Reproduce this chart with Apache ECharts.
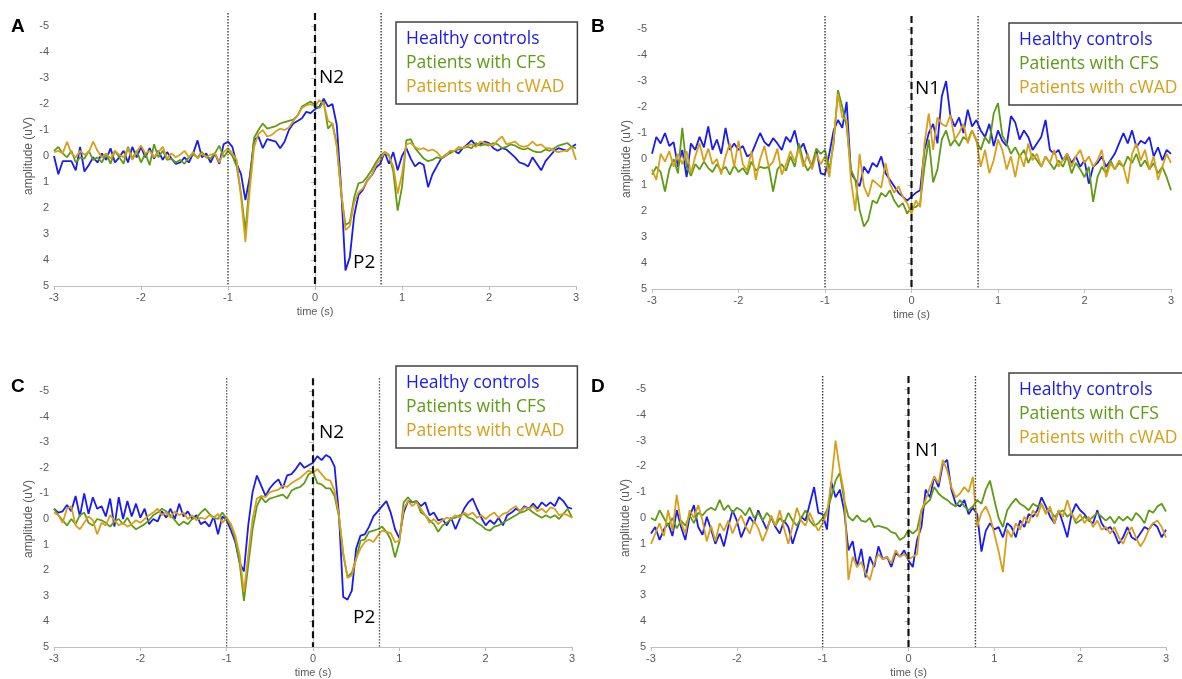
<!DOCTYPE html>
<html>
<head>
<meta charset="utf-8">
<script src="https://cdn.jsdelivr.net/npm/echarts@6/dist/echarts.min.js"></script>
<style>
  html, body { margin: 0; padding: 0; background: #fff; }
  #main { width: 1182px; height: 679px; }
</style>
</head>
<body>
<div id="main"></div>
<script>
// sample grid: one point every 50 ms from -3 s to 3 s (121 points)
var times = [];
for (var i = 0; i <= 120; i++) times.push(Math.round((-3 + i * 0.05) * 100) / 100);

var groupNames = ['Healthy controls', 'Patients with CFS', 'Patients with cWAD'];
var groupColors = ['#1a1af2', '#5f9c14', '#d7a01a'];
var xTicks = [-3, -2, -1, 0, 1, 2, 3];
var yTicks = [-5, -4, -3, -2, -1, 0, 1, 2, 3, 4, 5];

// A
var hcA = [0.0, 0.7, 0.2, 0.2, 0.2, 0.55, -0.35, 0.6, 0.35, 0.05,
  0.25, -0.1, 0.15, -0.3, 0.25, 0.05, -0.2, 0.25, -0.35, 0.05,
  -0.35, 0.05, -0.3, 0.1, -0.2, 0.15, -0.15, 0.1, 0.3, 0.25,
  0.05, 0.25, -0.1, -0.6, 0.05, -0.1, 0.25, -0.1, 0.3, -0.45,
  -0.55, -0.35, 0.3, 0.7, 1.7, 0.8, -0.6, -0.75, -0.3, -0.65,
  -0.6, -0.55, -0.3, -0.55, -1.0, -1.25, -1.35, -1.45, -1.7, -1.65,
  -1.8, -1.9, -2.2, -1.9, -2.0, -1.2, 1.2, 4.4, 3.9, 2.3,
  1.5, 1.3, 0.95, 0.75, 0.45, 0.3, -0.15, 0.3, -0.15, 0.55,
  0.0, -0.3, 0.1, 0.4, 0.25, 0.35, 1.2, 0.7, 0.4, 0.1,
  0.0, -0.15, -0.2, -0.1, -0.3, -0.45, -0.6, -0.4, -0.45, -0.55,
  -0.5, -0.3, -0.2, -0.3, -0.25, -0.1, 0.05, 0.25, 0.3, 0.4,
  0.05, 0.3, 0.55, 0.2, 0.0, -0.2, -0.3, -0.25, -0.2, -0.35,
  -0.45];
var cfsA = [-0.2, -0.35, -0.1, 0.05, -0.2, 0.25, 0.05, 0.1, -0.2, 0.15,
  0.05, 0.25, -0.1, 0.3, -0.2, 0.05, 0.3, -0.35, 0.1, -0.2,
  0.25, -0.1, 0.35, -0.45, 0.05, -0.2, 0.15, 0.1, 0.25, 0.15,
  0.3, 0.05, -0.05, 0.05, -0.15, 0.05, 0.1, -0.1, -0.4, 0.05,
  -0.2, 0.0, 0.4, 1.45, 2.9, 1.0, -0.7, -1.0, -1.25, -1.05,
  -1.1, -1.15, -1.25, -1.3, -1.35, -1.4, -1.55, -1.9, -2.0, -2.1,
  -1.95, -1.85, -2.1, -1.05, -1.25, -0.45, 1.45, 2.65, 2.55, 1.6,
  1.05, 1.0, 0.8, 0.55, 0.25, 0.0, -0.15, -0.05, 0.6, 2.1,
  1.2, -0.6, -0.65, -0.3, -0.1, 0.1, 0.2, 0.15, 0.05, 0.1,
  -0.05, -0.1, -0.2, -0.25, -0.3, -0.35, -0.3, -0.5, -0.4, -0.45,
  -0.4, -0.5, -0.45, -0.3, -0.35, -0.45, -0.4, -0.3, -0.25, -0.3,
  -0.2, -0.15, -0.15, -0.25, -0.2, -0.3, -0.4, -0.45, -0.5, -0.35,
  -0.3];
var wadA = [-0.15, -0.2, -0.1, -0.55, -0.1, 0.05, -0.2, -0.05, -0.15, -0.55,
  -0.2, 0.05, -0.1, 0.1, -0.2, -0.05, 0.05, -0.3, 0.15, -0.15,
  -0.4, -0.1, -0.2, 0.05, -0.15, -0.35, 0.1, -0.1, 0.05, -0.05,
  -0.2, 0.05, -0.15, 0.1, -0.1, 0.05, -0.05, -0.1, 0.25, -0.15,
  -0.3, -0.1, 0.15, 1.6, 3.3, 1.3, -0.35, -0.85, -1.0, -0.75,
  -0.8, -0.95, -1.05, -1.0, -1.1, -1.35, -1.55, -1.85, -1.95, -2.0,
  -1.9, -2.15, -2.0, -1.35, -1.25, -0.35, 1.3, 2.85, 2.7, 1.8,
  1.4, 1.25, 0.95, 0.75, 0.35, 0.15, -0.15, 0.0, 0.4, 1.45,
  0.7, -0.45, -0.5, -0.35, -0.25, -0.3, -0.2, -0.25, -0.15, 0.05,
  0.0, -0.2, -0.2, -0.35, -0.3, -0.4, -0.45, -0.35, -0.55, -0.5,
  -0.45, -0.4, -0.6, -0.75, -0.45, -0.5, -0.55, -0.4, -0.35, -0.4,
  -0.55, -0.4, -0.45, -0.3, -0.3, -0.2, -0.15, -0.2, -0.2, -0.35,
  0.15];

// B
var hcB = [-0.2, -0.85, -0.6, -1.0, -0.5, -0.65, 0.3, -0.35, 0.7, -0.6,
  -0.35, -0.85, -0.45, -1.25, -0.35, -0.75, -0.2, -1.2, -0.35, -0.6,
  -0.35, -0.5, -0.1, -0.2, -0.6, -1.0, -0.65, -0.5, -0.8, -0.6,
  -0.35, -0.85, -0.65, -1.1, -0.35, -0.6, -0.1, 0.3, -0.35, 0.55,
  0.6, -0.2, -1.1, -1.5, -1.2, -2.2, 0.55, 0.8, 1.05, 0.3,
  0.55, 0.15, 0.3, -0.1, 0.55, 0.8, 1.05, 1.3, 1.45, 1.6,
  1.45, 1.3, 1.2, -0.35, -1.0, -1.35, -0.6, -2.4, -3.0, -1.65,
  -1.25, -1.6, -1.0, -1.9, -1.25, -1.5, -1.1, -0.85, -1.35, -0.5,
  -1.1, -0.7, -0.5, -1.65, -1.4, -0.75, -1.1, -0.85, -0.35, -0.6,
  -0.85, -1.5, -0.35, -0.2, -0.35, 0.05, -0.2, 0.15, -0.1, 0.3,
  0.05, 0.95, 0.3, 0.15, -0.1, 0.3, 0.05, -0.2, -0.6, -1.0,
  -0.6, -1.1, -0.45, -0.7, -0.6, -0.85, -0.1, -0.45, 0.05, -0.35,
  -0.2];
var cfsB = [0.6, 0.3, 0.5, 1.25, 0.4, 0.0, 0.55, -1.2, 0.3, 0.65,
  0.2, 0.4, 0.1, 0.35, 0.5, 0.2, 0.45, 0.3, 0.6, 0.25,
  0.5, 0.35, 0.6, 0.1, 0.45, 0.3, 0.35, 0.3, 1.25, 0.4,
  0.2, 0.45, -0.1, 0.3, -0.6, 0.1, 0.45, 0.2, -0.4, -0.2,
  -0.35, 0.4, -0.6, -2.65, -2.0, -1.25, 0.4, 0.8, 1.95, 2.6,
  2.35, 1.6, 1.7, 1.3, 1.45, 1.2, 1.6, 1.85, 1.7, 2.1,
  1.85, 1.85, 1.7, 0.3, -0.75, 0.9, 0.4, -0.75, -1.1, -0.5,
  -0.75, -0.5, -0.85, -0.7, -1.1, -0.7, -0.35, -0.85, -0.6, -1.75,
  -2.15, -0.9, -0.6, -0.2, -0.45, -0.1, -0.35, 0.15, -0.2, 0.05,
  0.3, -0.1, 0.15, 0.4, 0.05, 0.3, -0.1, 0.55, 0.15, 0.4,
  0.7, 0.3, 1.65, 0.7, 0.3, 0.55, 0.05, 0.4, 0.15, 0.3,
  -0.1, 0.15, -0.2, 0.3, 0.05, 0.4, 0.15, 0.55, 0.3, 0.7,
  1.2];
var wadB = [0.4, 0.8, -0.2, 0.1, -0.3, 0.3, -0.2, 0.2, -0.3, 0.55,
  -0.1, -0.6, 0.1, -0.4, 0.2, 0.0, 0.6, -0.1, -0.6, 0.3,
  -0.7, 0.2, 0.45, -0.3, 0.8, 0.0, -0.5, 0.3, 0.1, -0.4,
  0.6, 0.2, -0.3, 0.1, -0.4, 0.3, -0.2, 0.4, -0.2, 0.2,
  -0.1, 0.7, -0.75, -2.5, -1.6, -1.5, 0.8, 2.0, -0.2, 1.05,
  1.45, 0.8, 0.95, 1.1, 0.15, 0.95, 1.3, 1.05, 1.45, 1.7,
  2.1, 1.6, 1.85, -0.6, -1.75, -0.35, -1.6, -1.35, -1.25, -1.7,
  -0.75, -1.0, -1.35, -0.6, -1.1, -0.75, 0.3, -0.35, 0.55, 0.05,
  -0.75, -0.35, 0.4, -0.1, 0.7, -0.2, 0.3, -0.6, 0.05, -0.2,
  0.3, -0.1, 0.15, -0.35, 0.3, 0.05, -0.2, 0.3, -0.1, -0.35,
  0.15, -0.1, 0.3, 0.05, -0.35, 0.7, 0.15, 0.4, 0.05, 0.3,
  0.95, -0.2, -0.6, 0.05, -0.35, 0.4, -0.1, 0.8, 0.3, -0.2,
  0.15];

// C
var hcC = [-0.4, -0.25, -0.3, -0.55, -0.3, -0.9, -0.1, -1.0, -0.2, -0.85,
  -0.4, -0.5, -0.1, -0.8, 0.3, -0.85, 0.0, -0.7, -0.1, -0.6,
  -0.05, -0.4, 0.2, 0.0, 0.1, -0.3, -0.05, -0.4, 0.0, -0.6,
  -0.1, -0.3, 0.0, -0.15, 0.2, 0.1, 0.3, -0.1, 0.6, -0.1,
  0.05, 0.45, 0.9, 1.7, 2.05, 0.25, -1.05, -1.7, -1.3, -0.9,
  -1.2, -1.4, -1.55, -1.2, -1.7, -1.75, -1.95, -2.2, -2.0, -2.1,
  -2.2, -2.45, -2.3, -2.5, -2.4, -2.05, -0.2, 3.05, 3.15, 2.8,
  1.15, 0.65, 0.6, 0.3, -0.1, -0.3, -0.5, -0.7, -0.25, 0.4,
  0.75, -0.25, -0.7, -0.65, -0.7, -0.5, -0.65, -0.15, -0.25, 0.05,
  0.0, 0.25, -0.05, 0.4, 0.0, -0.4, -0.65, -0.8, -0.4, -0.05,
  0.25, 0.05, 0.2, -0.05, 0.25, -0.15, -0.25, -0.4, -0.3, -0.5,
  -0.4, -0.6, -0.4, -0.65, -0.5, -0.65, -0.5, -0.85, -0.7, -0.45,
  -0.4];
var cfsC = [-0.4, -0.15, 0.05, 0.25, 0.0, 0.2, -0.15, -0.25, 0.15, 0.25,
  0.0, 0.05, 0.15, 0.3, 0.1, 0.0, 0.2, -0.05, 0.25, 0.4,
  0.3, 0.2, 0.05, -0.15, -0.25, -0.4, -0.3, -0.15, 0.05, 0.25,
  0.1, 0.2, 0.0, -0.05, -0.25, -0.4, -0.2, -0.05, 0.0, -0.25,
  0.0, 0.25, 0.8, 1.7, 3.2, 1.8, 0.4, -0.5, -0.85, -0.65,
  -0.8, -0.85, -0.9, -0.95, -0.8, -1.1, -1.2, -1.25, -1.4, -1.75,
  -1.85, -1.4, -1.35, -1.2, -1.2, -0.9, -0.1, 1.4, 2.25, 2.1,
  1.55, 0.85, 0.8, 0.5, 0.45, 0.4, 0.3, 0.5, 0.8, 1.5,
  0.9, -0.65, -0.85, -0.65, -0.7, -0.25, -0.15, 0.05, 0.2, 0.5,
  0.25, 0.15, 0.0, -0.05, -0.15, -0.2, -0.05, 0.0, 0.15, 0.25,
  0.4, 0.45, 0.3, 0.25, 0.15, 0.05, -0.05, -0.15, -0.25, -0.3,
  -0.4, -0.25, -0.15, -0.05, -0.15, -0.05, -0.15, 0.0, -0.2, -0.4,
  -0.05];
var wadC = [-0.25, -0.15, 0.15, -0.4, -0.5, 0.25, 0.4, 0.15, -0.1, 0.05,
  0.6, 0.15, 0.25, -0.15, 0.05, 0.25, 0.15, 0.3, 0.2, 0.05,
  0.15, 0.0, -0.15, -0.25, -0.4, -0.15, -0.25, -0.05, -0.3, -0.15,
  -0.25, 0.0, -0.15, 0.05, -0.05, 0.0, -0.15, -0.05, -0.2, 0.15,
  -0.05, 0.2, 0.65, 1.4, 2.85, 1.4, 0.0, -0.8, -0.9, -0.85,
  -1.05, -1.1, -1.15, -1.3, -1.25, -1.4, -1.5, -1.6, -1.75, -1.9,
  -1.8, -1.95, -1.75, -1.55, -1.5, -1.1, -0.15, 1.3, 2.3, 2.2,
  1.55, 1.15, 0.9, 0.8, 0.9, 0.65, 0.45, 0.5, 0.55, 0.9,
  0.85, -0.4, -0.7, -0.5, -0.65, -0.4, -0.15, 0.15, 0.0, 0.2,
  0.05, -0.05, 0.0, -0.15, -0.05, -0.25, -0.15, -0.25, -0.05, -0.15,
  0.0, -0.15, -0.25, -0.05, -0.2, -0.25, -0.4, -0.5, -0.3, -0.45,
  -0.4, -0.5, -0.3, -0.4, -0.25, -0.45, -0.4, -0.15, -0.2, -0.15,
  -0.05];

// D
var hcD = [0.6, 0.35, 0.85, 0.45, 0.2, 0.7, -0.3, 0.35, 0.85, -0.05,
  -0.5, 0.35, 0.65, -0.05, 0.45, 1.0, 0.6, 1.1, 0.35, -0.3,
  0.1, 0.75, 0.35, -0.05, 0.2, -0.3, 0.1, 0.45, -0.05, 0.35,
  0.6, 0.1, 0.35, 1.0, 0.45, -0.05, 0.1, -0.55, -1.2, -0.2,
  -0.15, 0.45, -1.4, -0.8, -1.1, -0.3, 1.25, 0.9, 1.9, 1.2,
  2.3, 1.5, 1.9, 1.1, 1.6, 1.5, 1.9, 1.35, 1.5, 1.25,
  1.65, 1.9, 0.85, 0.35, -1.1, -0.8, -1.6, -1.2, -2.1, -2.25,
  -1.1, -0.55, -0.45, -0.7, -0.15, -0.4, -0.15, 1.3, 0.5, 0.2,
  0.45, 0.35, 0.75, 0.2, 0.35, 0.75, 0.1, 0.35, -0.15, -0.05,
  -0.3, -0.8, -0.45, -0.05, 0.2, -0.3, 0.2, 0.75, -0.15, -0.55,
  -0.3, -0.15, 0.1, 0.2, -0.3, 0.2, 0.45, 0.35, 0.6, 1.0,
  0.75, 0.35, 0.75, 0.85, 0.6, 0.35, 0.45, 0.2, 0.35, 0.75,
  0.45];
var cfsD = [0.0, 0.1, -0.3, 0.0, 0.3, 0.0, 0.4, 0.1, 0.3, -0.1,
  0.2, -0.2, -0.1, -0.3, -0.4, -0.3, -0.7, -0.3, -0.5, -0.2,
  -0.4, -0.3, -0.1, -0.4, 0.0, -0.2, 0.1, -0.2, 0.0, 0.3,
  0.0, 0.2, -0.2, 0.1, 0.3, 0.0, -0.3, 0.1, 0.3, 0.2,
  0.0, -0.3, -0.8, -1.45, -1.75, -0.7, -0.05, 0.1, -0.1, 0.1,
  0.15, 0.0, 0.35, 0.3, 0.35, 0.4, 0.55, 0.6, 0.85, 0.75,
  0.45, 0.6, 0.45, -0.3, -0.55, -0.7, -1.2, -0.95, -0.8, -0.7,
  -0.55, -0.45, -0.7, -0.45, -0.3, -0.45, -0.7, -0.55, -1.1, -1.45,
  -0.7, 0.0, 0.35, -0.3, -0.55, -0.75, -0.55, -0.45, -0.3, -0.55,
  -0.45, -0.55, -0.2, -0.3, -0.05, -0.2, -0.3, -0.05, -0.2, 0.2,
  0.1, -0.05, 0.1, -0.05, -0.2, -0.05, 0.1, -0.05, 0.2, -0.05,
  0.1, -0.05, 0.1, -0.2, -0.05, 0.2, -0.3, -0.2, -0.45, -0.55,
  -0.25];
var wadD = [1.0, 0.6, 0.2, 0.7, -0.3, 0.5, -0.9, 0.2, 0.6, -0.3,
  0.0, -0.5, 0.1, 0.9, 0.3, 0.9, 0.2, 0.5, 0.1, 0.6,
  0.2, -0.1, 0.3, 0.6, 0.1, 0.4, 0.9, 0.5, -0.1, 0.3,
  -0.3, 0.4, 1.0, 0.3, -0.4, 0.1, 0.3, -0.2, 0.2, 0.5,
  0.2, -0.2, -1.35, -3.0, -1.85, -0.95, 2.4, 1.5, 1.9, 1.7,
  2.15, 2.4, 1.75, 1.4, 1.6, 1.5, 1.75, 1.25, 1.5, 1.4,
  1.6, 1.5, 1.4, -0.3, -0.7, -1.2, -1.6, -1.35, -2.25, -1.85,
  -1.2, -0.8, -0.95, -1.2, -1.0, -1.6, 0.35, -0.2, -0.45, -0.05,
  0.6, 1.3, 2.1, 0.45, 0.75, 0.2, 0.45, -0.05, 0.2, -0.3,
  -0.05, -0.55, -0.15, -0.45, 0.2, -0.3, -0.05, -0.7, -0.15, 0.1,
  -0.15, 0.2, -0.05, 0.35, 0.1, 0.45, 0.35, 0.6, 0.35, 0.75,
  1.0, 0.6, 0.35, 0.75, 1.1, 0.85, 0.45, 0.2, 0.1, 0.35,
  0.75];

var panels = [
  { letter: 'A', groups: [hcA, cfsA, wadA], dotted: [-1, 0.76], peak: 'N2', trough: 'P2' },
  { letter: 'B', groups: [hcB, cfsB, wadB], dotted: [-1, 0.77], peak: 'N1', trough: null },
  { letter: 'C', groups: [hcC, cfsC, wadC], dotted: [-1, 0.77], peak: 'N2', trough: 'P2' },
  { letter: 'D', groups: [hcD, cfsD, wadD], dotted: [-1, 0.78], peak: 'N1', trough: null }
];

// layout of the 4 plots (pixels)
var gridBoxes = [
  { left: 54, top: 26, width: 522, height: 260 },
  { left: 652, top: 29, width: 519, height: 260 },
  { left: 54, top: 391, width: 518, height: 258 },
  { left: 651, top: 389, width: 515, height: 258 }
];
var legendPos = [[396, 22], [1009, 23], [396, 366], [1009, 373]];
var letterPos = [[11, 17], [591, 17], [11, 377], [591, 377]];
var peakPos = [[319, 68], [915, 79], [319, 423], [915, 441]];
var troughPos = [[353, 253], null, [353, 608], null];

var axisFont = 'Liberation Sans, Arial, sans-serif';
var grids = [], xAxes = [], yAxes = [], series = [], legends = [], graphics = [];

function pairs(vals) {
  return vals.map(function (v, k) { return [times[k], v]; });
}

panels.forEach(function (p, g) {
  grids.push(gridBoxes[g]);
  xAxes.push({
    type: 'value', gridIndex: g, min: xTicks[0], max: xTicks[xTicks.length - 1], interval: 1,
    name: 'time (s)', nameLocation: 'middle', nameGap: 20,
    nameTextStyle: { fontFamily: axisFont, fontSize: 11, color: '#595959' },
    axisLine: { onZero: false, lineStyle: { color: '#bfbfbf', width: 1 } },
    axisTick: { show: true, length: 4, lineStyle: { color: '#bfbfbf' } },
    axisLabel: { fontFamily: axisFont, fontSize: 11, color: '#595959', margin: 6 },
    splitLine: { show: false }
  });
  yAxes.push({
    type: 'value', gridIndex: g, inverse: true, min: yTicks[0], max: yTicks[yTicks.length - 1], interval: 1,
    name: 'amplitude (uV)', nameLocation: 'middle', nameGap: 19,
    nameTextStyle: { fontFamily: axisFont, fontSize: 12, color: '#595959' },
    axisLine: { show: true, lineStyle: { color: '#bfbfbf', width: 1 } },
    axisTick: { show: true, length: 4, lineStyle: { color: '#bfbfbf' } },
    axisLabel: { fontFamily: axisFont, fontSize: 11, color: '#595959', margin: 5 },
    splitLine: { show: false }
  });
  p.groups.forEach(function (vals, s) {
    series.push({
      type: 'line', name: groupNames[s], xAxisIndex: g, yAxisIndex: g,
      data: pairs(vals), showSymbol: false, symbol: 'none',
      lineStyle: { color: groupColors[s], width: 1.8 },
      itemStyle: { color: groupColors[s] },
      animation: false, z: 2 + s
    });
  });
  // dotted at -1 s and end of the window, dashed at 0 s
  p.dotted.forEach(function (t) {
    series.push({
      type: 'line', xAxisIndex: g, yAxisIndex: g, clip: false, silent: true,
      data: [[t, -5.5], [t, 5]], symbol: 'none',
      lineStyle: { color: '#3a3a3a', width: 1.4, type: [1.4, 1.6] },
      animation: false, z: 6
    });
  });
  series.push({
    type: 'line', xAxisIndex: g, yAxisIndex: g, clip: false, silent: true,
    data: [[0, -5.5], [0, 5]], symbol: 'none',
    lineStyle: { color: '#111', width: 2.2, type: [7, 4] },
    animation: false, z: 7
  });

  legends.push({
    orient: 'vertical', left: legendPos[g][0], top: legendPos[g][1],
    padding: [5, 13, 5, 5], itemGap: 0, itemWidth: 0, itemHeight: 0,
    borderColor: '#404040', borderWidth: 1.5, selectedMode: false,
    textStyle: { fontFamily: 'Open Sans, sans-serif', fontSize: 17.5, lineHeight: 24 },
    data: groupNames.map(function (n, s) {
      return { name: n, icon: 'rect', textStyle: { color: groupColors[s] } };
    })
  });

  graphics.push({
    type: 'text', left: letterPos[g][0], top: letterPos[g][1],
    style: { text: p.letter, font: 'bold 19px Liberation Sans, Arial, sans-serif', fill: '#000' }
  });
  graphics.push({
    type: 'text', left: peakPos[g][0], top: peakPos[g][1],
    style: { text: p.peak, font: '19px Open Sans, sans-serif', fill: '#000' }
  });
  if (p.trough) {
    graphics.push({
      type: 'text', left: troughPos[g][0], top: troughPos[g][1],
      style: { text: p.trough, font: '19px Open Sans, sans-serif', fill: '#000' }
    });
  }
});

var chart = echarts.init(document.getElementById('main'), null, { renderer: 'canvas' });
chart.setOption({
  backgroundColor: '#fff',
  animation: false,
  grid: grids,
  xAxis: xAxes,
  yAxis: yAxes,
  legend: legends,
  graphic: graphics,
  series: series
});
</script>
</body>
</html>
